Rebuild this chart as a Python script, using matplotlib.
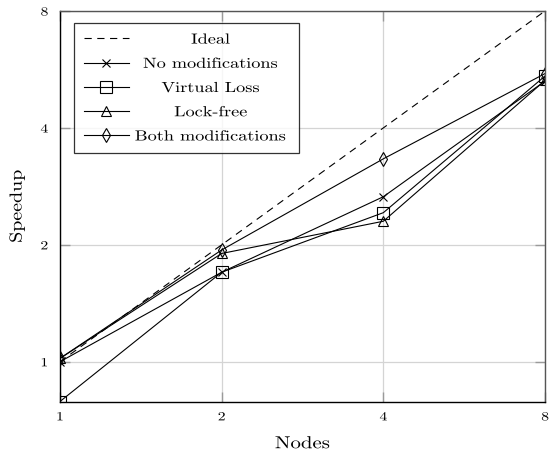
"""
Speedup vs. number of nodes for the tree-search variants (log-log, base 2).
"""

import matplotlib
matplotlib.use("Agg")
import matplotlib.pyplot as plt
from matplotlib.patheffects import AbstractPathEffect
from matplotlib.transforms import Affine2D

plt.rcParams["font.family"] = "cmr10"
plt.rcParams["mathtext.fontset"] = "cm"
plt.rcParams["axes.formatter.use_mathtext"] = True

# Measured speedups
nodes = [1, 2, 4, 8]
ideal = [1, 2, 4, 8]
no_mod = [1.00, 1.70, 2.66, 5.28]
virtual_loss = [0.79, 1.70, 2.42, 5.44]
lock_free = [1.02, 1.90, 2.30, 5.30]
both_mod = [1.02, 1.94, 3.33, 5.52]
tick_vals = [1, 2, 4, 8]


class HStretch(AbstractPathEffect):
    """Widen text glyphs horizontally about the centre of the string."""

    def __init__(self, sx):
        super().__init__()
        self.sx = sx

    def draw_path(self, renderer, gc, tpath, affine, rgbFace=None):
        ext = tpath.get_extents()
        cx = 0.5 * (ext.x0 + ext.x1)
        st = Affine2D().translate(-cx, 0).scale(self.sx, 1).translate(cx, 0)
        renderer.draw_path(gc, tpath, st + affine, rgbFace)


fig = plt.figure(figsize=(5.5, 4.57), dpi=100)
ax = fig.add_axes([0.109, 0.1214, 0.882, 0.8546])

lw = 0.8
ax.plot(nodes, ideal, "k", lw=lw, dashes=(6.5, 5), label="Ideal")
ax.plot(nodes, no_mod, "k-", lw=lw, marker="x", ms=6, mew=0.8,
        label="No modifications")
ax.plot(nodes, virtual_loss, "k-", lw=lw, marker="s", ms=8, mew=0.8,
        mfc="none", label="Virtual Loss")
ax.plot(nodes, lock_free, "k-", lw=lw, marker="^", ms=6.5, mew=0.8,
        mfc="none", label="Lock-free")
ax.plot(nodes, both_mod, "k-", lw=lw, marker="d", ms=7.5, mew=0.8,
        mfc="none", label="Both modifications")

ax.set_xscale("log", base=2)
ax.set_yscale("log", base=2)
ax.set_xlim(nodes[0], nodes[-1])
ax.set_ylim(min(virtual_loss), tick_vals[-1])
ax.set_xticks(tick_vals)
ax.set_xticklabels([str(v) for v in tick_vals])
ax.set_yticks(tick_vals)
ax.set_yticklabels([str(v) for v in tick_vals])
ax.minorticks_off()

ax.tick_params(direction="in", length=7, width=1, color="#9a9a9a",
               labelsize=9, top=True, right=True)
ax.tick_params(axis="x", pad=7)
ax.tick_params(axis="y", pad=9)
ax.grid(True, color="#d4d4d4", lw=0.9)
ax.set_axisbelow(True)
for side in ["left", "bottom"]:
    ax.spines[side].set_color("black")
for side in ["top", "right"]:
    ax.spines[side].set_color("#555555")
for sp in ax.spines.values():
    sp.set_linewidth(1.0)

ax.set_xlabel("Nodes", fontsize=12.5, labelpad=9,
              path_effects=[HStretch(1.2)])
ax.set_ylabel("Speedup", fontsize=12.5, labelpad=12,
              path_effects=[HStretch(1.15)])
for lab in ax.get_xticklabels() + ax.get_yticklabels():
    lab.set_path_effects([HStretch(1.25)])

leg = ax.legend(loc="upper left", bbox_to_anchor=(0.0289, 0.5, 0.464, 0.469),
                mode="expand", fontsize=10.5, frameon=True, fancybox=False,
                edgecolor="black", handlelength=3.1, handletextpad=0.6,
                labelspacing=0.72, borderpad=0.67, borderaxespad=0)
leg.get_frame().set_linewidth(0.9)
for t in leg.get_texts():
    t.set_path_effects([HStretch(1.25)])

# center legend labels in the space right of the handles
fig.canvas.draw()
renderer = fig.canvas.get_renderer()
frame = leg.get_frame().get_window_extent(renderer)
col_center = frame.x0 + 0.607 * frame.width
for t in leg.get_texts():
    bb = t.get_window_extent(renderer)
    t.set_x(col_center - 0.5 * (bb.x0 + bb.x1))

fig.savefig("out.png", dpi=100)
